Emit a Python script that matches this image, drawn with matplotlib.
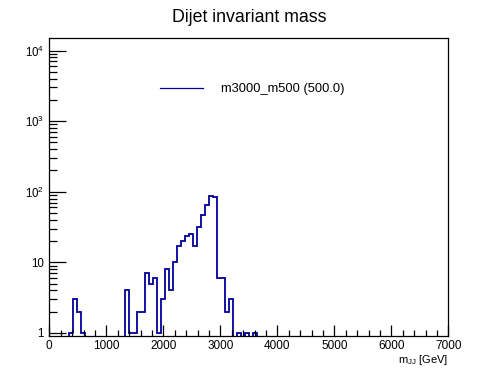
import numpy as np
import matplotlib
matplotlib.use("Agg")
import matplotlib.pyplot as plt
from matplotlib.ticker import FixedLocator, FuncFormatter, LogLocator, MultipleLocator, NullFormatter

plt.rcParams['font.family'] = ['Liberation Sans', 'DejaVu Sans']
plt.rcParams['mathtext.fontset'] = 'custom'
plt.rcParams['mathtext.rm'] = 'Liberation Sans'
plt.rcParams['mathtext.it'] = 'Liberation Sans'

title = "Dijet invariant mass"
legend_label = "m3000_m500 (500.0)"
x_label = r"$\mathrm{m_{JJ}}$ [GeV]"

bin_lo, bin_hi, n_bins = 0, 7000, 100
# non-empty bins: index -> count
nonzero_bins = [5, 6, 7, 8, 19, 20, 21, 22, 23, 24, 25, 26, 27, 28, 29, 30, 31, 32, 33,
                34, 35, 36, 37, 38, 39, 40, 41, 42, 43, 44, 45, 47, 49, 51]
nonzero_counts = [1, 3, 2, 1, 4, 1, 1, 2, 2, 7, 5, 6, 1, 3, 8, 4, 10, 17, 20,
                  24, 25, 17, 32, 47, 64, 88, 85, 6, 6, 2, 3, 1, 1, 1]

edges = np.linspace(bin_lo, bin_hi, n_bins + 1)
counts = np.zeros(n_bins)
counts[nonzero_bins] = nonzero_counts

ymin, ymax = 0.92, 1.52e4

fig = plt.figure(figsize=(4.98, 3.74), dpi=100)
ax = fig.add_axes([0.099, 0.1029, 0.8013, 0.7963])

draw_vals = np.where(counts > 0, counts, 1e-3)
ax.stairs(draw_vals, edges, color='#000099', linewidth=1.3, label=legend_label)

ax.set_yscale('log')
ax.set_xlim(bin_lo, bin_hi)
ax.set_ylim(ymin, ymax)

ax.xaxis.set_major_locator(MultipleLocator(1000))
ax.xaxis.set_minor_locator(MultipleLocator(200))
ax.yaxis.set_major_locator(FixedLocator([1, 10, 100, 1000, 10000]))
ax.yaxis.set_minor_locator(LogLocator(base=10, subs=np.arange(2, 10), numticks=20))
ax.yaxis.set_minor_formatter(NullFormatter())

def yfmt(v, pos):
    e = int(round(np.log10(v)))
    if e == 0:
        return "1"
    if e == 1:
        return "10"
    return r"$\mathregular{10^{%d}}$" % e

ax.yaxis.set_major_formatter(FuncFormatter(yfmt))

ax.tick_params(axis='both', which='both', direction='in', top=False, right=False,
               width=0.9, colors='black')
ax.tick_params(axis='x', which='major', length=8, pad=3, labelsize=8.5)
ax.tick_params(axis='x', which='minor', length=4)
ax.tick_params(axis='y', which='major', length=12, pad=4, labelsize=8.3)
ax.tick_params(axis='y', which='minor', length=6)
for s in ax.spines.values():
    s.set_linewidth(0.9)

ax.set_xlabel(x_label, fontsize=8, loc='right', labelpad=1)
fig.suptitle(title, fontsize=12.8, y=0.975)

leg = ax.legend(loc='center left', bbox_to_anchor=(0.2775, 0.827), frameon=False,
                fontsize=9.3, handlelength=3.33, handletextpad=1.4, borderaxespad=0,
                borderpad=0)
for h in leg.get_lines():
    h.set_linewidth(0.9)

fig.savefig("out.png", dpi=100)
